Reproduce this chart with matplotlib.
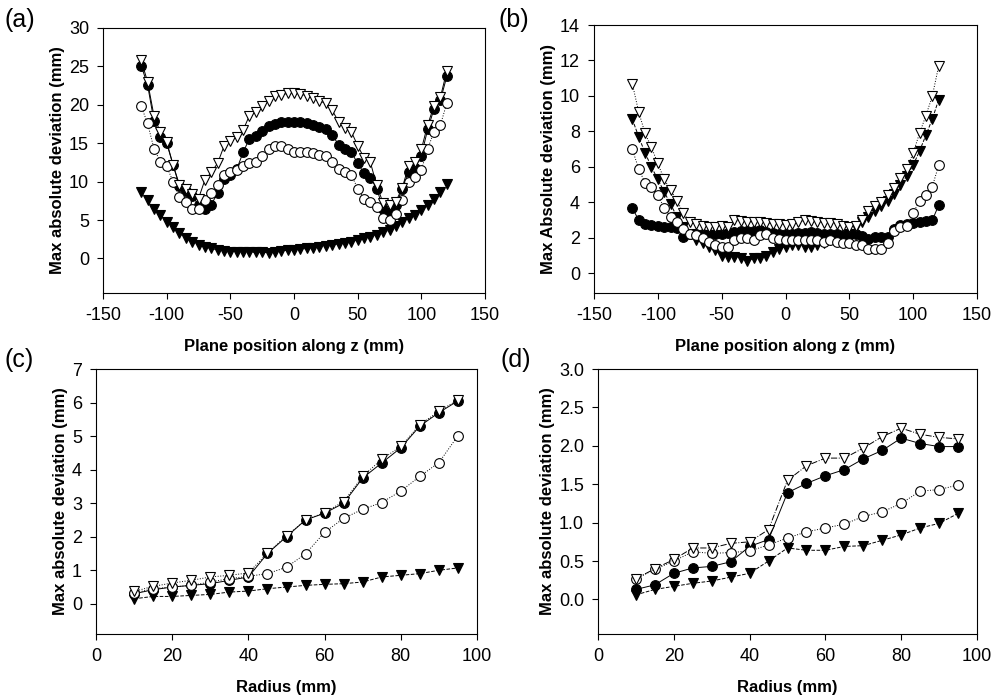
import matplotlib
matplotlib.use("Agg")
import matplotlib.pyplot as plt
import numpy as np

plt.rcParams["font.family"] = ["Liberation Sans", "DejaVu Sans"]
plt.rcParams["axes.unicode_minus"] = False

# plane positions along z (mm) for panels a and b
Z = np.arange(-120, 121, 5)
# radii (mm) for panels c and d
R = np.arange(10, 96, 5)

# panel (a)
A_OPEN_TRI = [25.8, 23.0, 18.6, 16.4, 15.2, 12.2, 9.6, 9.0, 8.4, 7.8, 10.2, 11.2, 12.4,
              14.6, 15.3, 15.8, 16.7, 18.6, 19.0, 19.8, 20.5, 21.1, 21.3, 21.5, 21.5,
              21.4, 21.2, 20.9, 20.5, 20.2, 19.3, 17.8, 17.0, 16.5, 14.7, 13.1, 12.5,
              9.5, 7.2, 6.9, 7.4, 9.2, 12.0, 12.6, 14.2, 17.4, 19.9, 21.0, 24.4]
A_FILL_CIR = [25.1, 22.6, 17.9, 15.8, 15.0, 12.2, 9.4, 8.8, 8.1, 7.0, 6.5, 7.0, 8.5,
              10.3, 10.9, 11.6, 13.8, 15.6, 16.0, 16.6, 17.2, 17.5, 17.7, 17.8, 17.8,
              17.7, 17.6, 17.4, 17.1, 16.8, 16.1, 14.8, 14.2, 13.8, 12.4, 11.1, 10.5,
              9.1, 6.4, 6.0, 7.0, 9.0, 11.2, 11.8, 13.4, 16.8, 19.5, 20.6, 23.7]
A_OPEN_CIR = [19.8, 17.6, 14.3, 12.6, 12.0, 10.0, 8.0, 7.4, 6.5, 6.5, 7.6, 8.5, 9.6,
              10.9, 11.3, 11.5, 12.0, 12.4, 12.6, 13.3, 14.3, 14.6, 14.7, 14.3, 13.9,
              13.9, 13.9, 13.7, 13.5, 13.3, 12.6, 11.7, 11.3, 10.9, 9.1, 7.8, 7.4,
              6.7, 5.2, 5.0, 5.8, 7.6, 10.0, 10.6, 11.5, 14.3, 16.5, 17.4, 20.2]
A_FILL_TRI = [8.7, 7.6, 6.5, 5.7, 4.8, 4.1, 3.3, 2.6, 2.2, 1.7, 1.5, 1.3, 1.1,
              1.0, 0.9, 0.9, 0.85, 0.8, 0.8, 0.8, 0.75, 0.9, 1.0, 1.05, 1.1,
              1.2, 1.3, 1.4, 1.5, 1.6, 1.75, 1.9, 2.05, 2.2, 2.4, 2.6, 2.85,
              3.1, 3.4, 3.7, 4.2, 4.7, 5.2, 5.7, 6.3, 7.0, 7.8, 8.7, 9.7]

# panel (b)
B_OPEN_TRI = [10.7, 9.1, 7.9, 7.1, 6.2, 5.3, 4.7, 4.1, 3.4, 2.9, 2.8, 2.7, 2.6,
              2.6, 2.7, 2.6, 3.0, 2.95, 2.9, 2.9, 2.9, 2.85, 2.8, 2.8, 2.75,
              2.8, 2.9, 3.0, 2.95, 2.9, 2.85, 2.85, 2.8, 2.7, 2.6, 2.7, 3.0,
              3.5, 3.8, 4.0, 4.4, 4.8, 5.4, 5.9, 6.8, 7.9, 8.9, 10.0, 11.7]
B_FILL_TRI = [8.7, 7.7, 6.8, 6.0, 5.3, 4.6, 3.9, 3.2, 2.6, 2.2, 1.9, 1.7, 1.5,
              1.3, 1.0, 0.95, 0.95, 0.85, 0.7, 0.85, 0.9, 1.0, 1.2, 1.4, 1.5,
              1.6, 1.6, 1.5, 1.5, 1.6, 1.7, 1.9, 2.05, 2.1, 2.2, 2.6, 2.9,
              3.2, 3.5, 3.8, 4.1, 4.5, 5.0, 5.5, 6.1, 6.9, 7.8, 8.7, 9.8]
B_FILL_CIR = [3.7, 3.0, 2.8, 2.75, 2.7, 2.6, 2.6, 2.55, 2.05, 2.25, 2.2, 2.25, 2.25,
              2.25, 2.25, 2.3, 2.35, 2.4, 2.4, 2.4, 2.45, 2.35, 2.3, 2.25, 2.2,
              2.25, 2.3, 2.3, 2.35, 2.3, 2.25, 2.2, 2.2, 2.15, 2.15, 2.2, 2.1,
              1.95, 2.05, 2.05, 2.05, 2.5, 2.75, 2.8, 2.85, 2.9, 2.95, 3.0, 3.85]
B_OPEN_CIR = [7.0, 5.9, 5.1, 4.9, 4.4, 3.7, 3.2, 2.9, 2.5, 2.25, 2.15, 2.0, 1.8,
              1.6, 1.5, 1.5, 1.9, 2.0, 2.0, 1.9, 2.15, 2.2, 2.0, 1.95, 1.9,
              1.9, 1.9, 1.9, 1.9, 1.9, 1.8, 1.9, 1.8, 1.7, 1.7, 1.6, 1.6,
              1.4, 1.4, 1.4, 1.7, 2.4, 2.6, 2.7, 3.4, 4.1, 4.4, 4.9, 6.1]

# panel (c)
C_OPEN_TRI = [0.37, 0.52, 0.62, 0.7, 0.8, 0.85, 0.92, 1.51, 2.03, 2.5, 2.72, 3.05,
              3.8, 4.31, 4.69, 5.34, 5.74, 6.08]
C_FILL_CIR = [0.3, 0.42, 0.5, 0.55, 0.6, 0.7, 0.8, 1.5, 2.0, 2.5, 2.7, 3.0,
              3.75, 4.2, 4.65, 5.3, 5.7, 6.05]
C_OPEN_CIR = [0.32, 0.45, 0.5, 0.55, 0.65, 0.75, 0.82, 0.9, 1.09, 1.49, 2.13, 2.55,
              2.82, 3.02, 3.36, 3.8, 4.21, 5.01]
C_FILL_TRI = [0.15, 0.22, 0.22, 0.25, 0.28, 0.35, 0.38, 0.45, 0.5, 0.55, 0.58, 0.6,
              0.65, 0.8, 0.85, 0.9, 1.0, 1.07]

# panel (d)
D_OPEN_TRI = [0.27, 0.4, 0.52, 0.67, 0.67, 0.73, 0.75, 0.91, 1.55, 1.74, 1.84, 1.84,
              1.97, 2.12, 2.23, 2.15, 2.11, 2.09]
D_FILL_CIR = [0.13, 0.19, 0.34, 0.41, 0.43, 0.49, 0.69, 0.78, 1.39, 1.51, 1.61, 1.69,
              1.83, 1.94, 2.1, 2.03, 1.99, 1.99]
D_OPEN_CIR = [0.27, 0.39, 0.5, 0.62, 0.6, 0.61, 0.63, 0.71, 0.8, 0.88, 0.93, 0.98,
              1.08, 1.14, 1.25, 1.41, 1.43, 1.49]
D_FILL_TRI = [0.06, 0.13, 0.17, 0.21, 0.24, 0.29, 0.34, 0.5, 0.67, 0.64, 0.64, 0.69,
              0.7, 0.77, 0.84, 0.93, 0.99, 1.12]

MS = 7


def draw(ax, x, ftri, fcir, ocir, otri, ocir_ls=":", otri_ls="-.", ftri_ls="--"):
    kw = dict(color="black", lw=0.7, ms=MS, mec="black", mew=0.8)
    ax.plot(x, ftri, "v", ls=ftri_ls, mfc="black", **kw)
    ax.plot(x, fcir, "o", ls="-", mfc="black", **kw)
    ax.plot(x, ocir, "o", ls=ocir_ls, mfc="white", **kw)
    ax.plot(x, otri, "v", ls=otri_ls, mfc="white", **kw)


def style(ax, xlim, xticks, ylim, yticks, xlabel, ylabel, ylabfmt=None):
    ax.set_xlim(*xlim); ax.set_xticks(xticks)
    ax.set_ylim(*ylim); ax.set_yticks(yticks)
    if ylabfmt:
        ax.set_yticklabels([ylabfmt % t for t in yticks])
    ax.tick_params(direction="out", length=4, width=0.8, labelsize=13, pad=6)
    for s in ax.spines.values():
        s.set_linewidth(0.8)
    ax.set_xlabel(xlabel, fontsize=12, fontweight="bold", labelpad=11)
    ax.set_ylabel(ylabel, fontsize=12, fontweight="bold", labelpad=3)


W, H = 993, 696
fig = plt.figure(figsize=(W / 100, H / 100), dpi=100)


def box(l, t, r, b):
    return fig.add_axes([l / W, 1 - b / H, (r - l) / W, (b - t) / H])


axA = box(103, 28, 485, 293)
axB = box(594, 25, 977, 293)
axC = box(96, 369, 477, 634)
axD = box(598, 369, 977, 634)

draw(axA, Z, A_FILL_TRI, A_FILL_CIR, A_OPEN_CIR, A_OPEN_TRI, otri_ls="-")
style(axA, (-150, 150), np.arange(-150, 151, 50), (-4.5, 30), np.arange(0, 31, 5),
      "Plane position along z (mm)", "Max absolute deviation (mm)")

draw(axB, Z, B_FILL_TRI, B_FILL_CIR, B_OPEN_CIR, B_OPEN_TRI, otri_ls=":")
style(axB, (-150, 150), np.arange(-150, 151, 50), (-1.1, 14), np.arange(0, 15, 2),
      "Plane position along z (mm)", "Max Absolute deviation (mm)")

draw(axC, R, C_FILL_TRI, C_FILL_CIR, C_OPEN_CIR, C_OPEN_TRI, otri_ls=":")
style(axC, (0, 100), np.arange(0, 101, 20), (-0.9, 7), np.arange(0, 8, 1),
      "Radius (mm)", "Max absolute deviation (mm)")

draw(axD, R, D_FILL_TRI, D_FILL_CIR, D_OPEN_CIR, D_OPEN_TRI)
style(axD, (0, 100), np.arange(0, 101, 20), (-0.45, 3.0), np.arange(0, 3.01, 0.5),
      "Radius (mm)", "Max absolute deviation (mm)", ylabfmt="%.1f")

for lab, (px, py) in zip(["(a)", "(b)", "(c)", "(d)"],
                         [(5, 20), (498, 20), (5, 360), (500, 360)]):
    fig.text(px / W, 1 - py / H, lab, fontsize=18, ha="left", va="center")

fig.savefig("out.png", dpi=100)
